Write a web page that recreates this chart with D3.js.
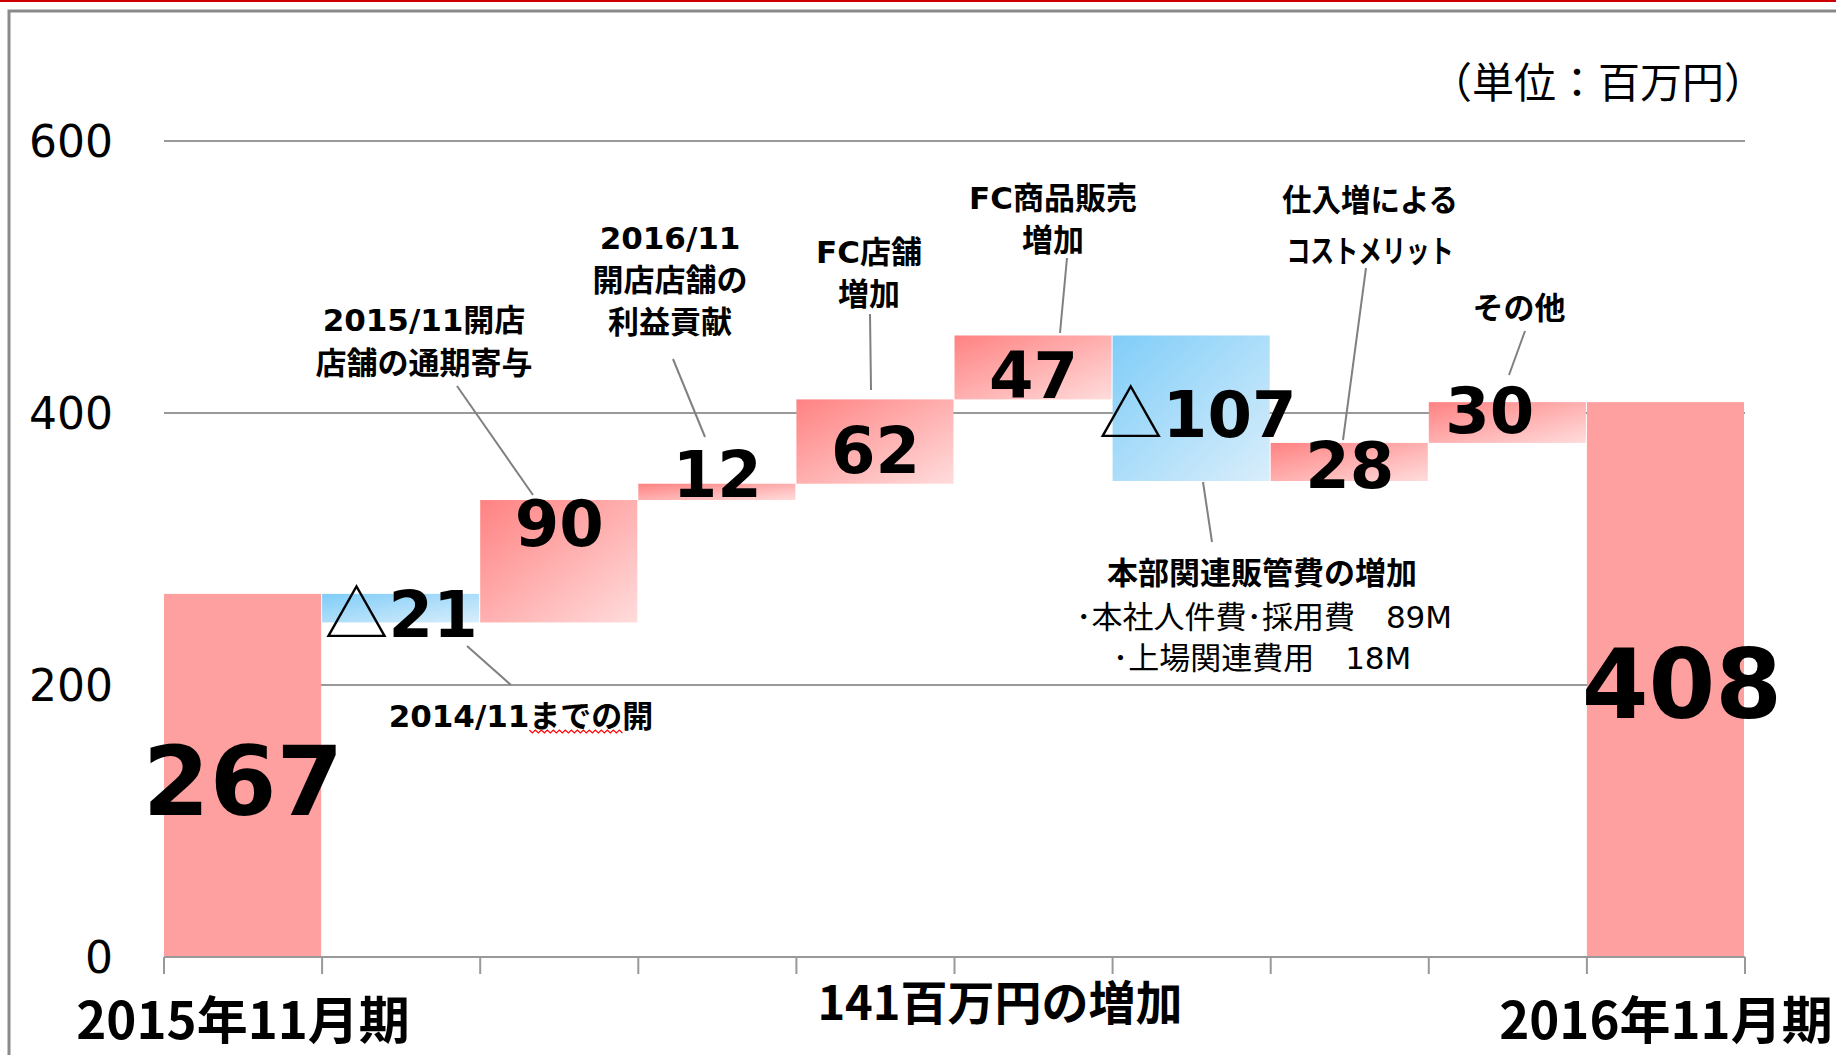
<!DOCTYPE html>
<html lang="ja">
<head>
<meta charset="utf-8">
<title>営業利益 増減要因</title>
<script src="https://cdn.jsdelivr.net/npm/d3@7"></script>
<style>
  html, body { margin: 0; padding: 0; background: #fff; }
  svg { display: block; }
</style>
</head>
<body>
<div id="chart"></div>
<script>
// Waterfall data, left to right
const categories = [
  "2015年11月期", "2014/11までの開店", "2015/11開店店舗の通期寄与", "2016/11開店店舗の利益貢献",
  "FC店舗増加", "FC商品販売増加", "本部関連販管費の増加", "仕入増によるコストメリット", "その他", "2016年11月期"
];
const barKinds = ["total", "delta", "delta", "delta", "delta", "delta", "delta", "delta", "delta", "total"];
const values = [267, -21, 90, 12, 62, 47, -107, 28, 30, 408];
const yTicks = [0, 200, 400, 600];
const unitLabel = "（単位：百万円）";
const changeLabel = "141百万円の増加";

// annotation texts
const noteTexts = [
  ["2014/11までの開"],
  ["2015/11開店", "店舗の通期寄与"],
  ["2016/11", "開店店舗の", "利益貢献"],
  ["FC店舗", "増加"],
  ["FC商品販売", "増加"],
  ["仕入増による", "コストメリット"],
  ["その他"]
];
const sgaTitle = "本部関連販管費の増加";
const sgaItems = ["･本社人件費･採用費　89M", "･上場関連費用　18M"];

// layout only (pixels)
const width = 1836, height = 1055;
const plot = { left: 164, right: 1745, top: 141, bottom: 957 };
const noteLayout = [
  { x: 521, y: 727, lh: 0, lead: [467, 646, 511, 685] },
  { x: 424, y: 331, lh: 43, lead: [457, 386, 533, 495] },
  { x: 670, y: 249, lh: 42, lead: [673, 359, 705, 437] },
  { x: 869, y: 263, lh: 42, lead: [870, 314, 871, 390] },
  { x: 1053, y: 209, lh: 42, lead: [1067, 258, 1060, 333] },
  { x: 1370, y: 211, lh: 51, lead: [1366, 268, 1343, 440], fit: [176, 167] },
  { x: 1519, y: 319, lh: 0, lead: [1525, 331, 1509, 375] }
];
const sgaLayout = { x: 1262, y: 584, lead: [1203, 482, 1212, 542] };
// small label nudges to follow the original placement
const labelDx = [0, 0, 0, 0, 0, 0, 6, 0, -18, 16];
const labelDy = [5, 5, -39, -18, 8, 7, 5, 3, -13, 3];

const latin = '"DejaVu Sans", "Noto Sans CJK JP", sans-serif';
const cjk = '"Noto Sans CJK JP", sans-serif';

// running totals
let run = 0;
const bars = values.map((v, i) => {
  let start, end;
  if (barKinds[i] === "total") { start = 0; end = v; run = v; }
  else { start = run; end = run + v; run = end; }
  return { i, v, kind: barKinds[i], start, end };
});

const x = d3.scaleBand().domain(d3.range(categories.length)).range([plot.left, plot.right]).padding(0);
const y = d3.scaleLinear().domain([0, 600]).range([plot.bottom, plot.top]);

const svg = d3.select("#chart").append("svg")
  .attr("width", width)
  .attr("height", height)
  .attr("viewBox", [0, 0, width, height]);

const defs = svg.append("defs");
function grad(id, c0, c1) {
  const g = defs.append("linearGradient").attr("id", id)
    .attr("x1", 0).attr("y1", 0).attr("x2", 1).attr("y2", 1);
  g.append("stop").attr("offset", 0).attr("stop-color", c0);
  g.append("stop").attr("offset", 1).attr("stop-color", c1);
}
grad("gUp", "#ff8282", "#ffdcdc");
grad("gDown", "#80cdf8", "#d9eefb");

// page frame
svg.append("rect").attr("x", 0).attr("y", 0).attr("width", width).attr("height", 2).attr("fill", "#cc0000");
svg.append("rect")
  .attr("x", 9).attr("y", 11).attr("width", width + 20).attr("height", height + 20)
  .attr("fill", "none").attr("stroke", "#8a8a8a").attr("stroke-width", 3);

// gridlines
svg.append("g").selectAll("line")
  .data(yTicks.filter(d => d > 0))
  .join("line")
  .attr("x1", plot.left).attr("x2", plot.right)
  .attr("y1", d => y(d)).attr("y2", d => y(d))
  .attr("stroke", "#999").attr("stroke-width", 2);

// y labels
svg.append("g")
  .attr("font-family", latin).attr("font-size", 44).attr("fill", "#000")
  .attr("text-anchor", "end")
  .selectAll("text")
  .data(yTicks)
  .join("text")
  .attr("x", 113)
  .attr("y", d => y(d) + 16)
  .text(d => d);

// bars
svg.append("g").selectAll("rect")
  .data(bars)
  .join("rect")
  .attr("x", d => x(d.i))
  .attr("width", x.bandwidth() - 1)
  .attr("y", d => y(Math.max(d.start, d.end)))
  .attr("height", d => Math.abs(y(d.start) - y(d.end)))
  .attr("fill", d => d.kind === "total" ? "#ffa0a0" : (d.v < 0 ? "url(#gDown)" : "url(#gUp)"));

// x axis line and ticks at category boundaries
const ax = svg.append("g").attr("stroke", "#999").attr("stroke-width", 2);
ax.append("line").attr("x1", plot.left).attr("x2", plot.right)
  .attr("y1", y(0)).attr("y2", y(0));
ax.selectAll("line.tick")
  .data(d3.range(categories.length + 1))
  .join("line").attr("class", "tick")
  .attr("x1", i => i < categories.length ? x(i) : plot.right)
  .attr("x2", i => i < categories.length ? x(i) : plot.right)
  .attr("y1", y(0)).attr("y2", y(0) + 17);

// leader lines
const leads = noteLayout.map(d => d.lead).concat([sgaLayout.lead]);
svg.append("g").selectAll("line")
  .data(leads)
  .join("line")
  .attr("x1", d => d[0]).attr("y1", d => d[1])
  .attr("x2", d => d[2]).attr("y2", d => d[3])
  .attr("stroke", "#808080").attr("stroke-width", 2);

// value labels
const vl = svg.append("g").attr("fill", "#000").attr("text-anchor", "middle")
  .selectAll("text")
  .data(bars)
  .join("text")
  .attr("font-family", latin)
  .attr("font-weight", "bold")
  .attr("font-size", d => d.kind === "total" ? 96 : 64)
  .attr("x", d => x(d.i) + x.bandwidth() / 2 + labelDx[d.i])
  .attr("y", d => {
    const fs = d.kind === "total" ? 96 : 64;
    return y((d.start + d.end) / 2) + fs * 0.365 + labelDy[d.i];
  });
vl.filter(d => d.v < 0).append("tspan")
  .attr("font-family", cjk).attr("font-weight", "normal")
  .text("△");
vl.append("tspan").text(d => Math.abs(d.v));

// annotations
const notes = svg.append("g")
  .attr("font-family", latin).attr("font-weight", "bold").attr("font-size", 31)
  .attr("text-anchor", "middle").attr("fill", "#000");
noteTexts.forEach((lines, k) => {
  const L = noteLayout[k];
  lines.forEach((t, j) => {
    const el = notes.append("text").attr("x", L.x).attr("y", L.y + j * L.lh).text(t).attr("class", "n" + k);
    if (L.fit) el.attr("textLength", L.fit[j]).attr("lengthAdjust", "spacingAndGlyphs");
  });
});

// red spell-check squiggle under "までの"
const first = notes.select("text.n0").node();
const s0 = first.getStartPositionOfChar(7);
const sLen = first.getSubStringLength(7, 3);
const sq = [];
for (let px = 0; px <= sLen; px += 3) sq.push([s0.x + px, s0.y + 3 + ((px / 3) % 2 ? 3 : 0)]);
svg.append("path")
  .attr("d", d3.line()(sq))
  .attr("fill", "none").attr("stroke", "#ff0000").attr("stroke-width", 1.2);

// SG&A block
const sga = svg.append("g").attr("font-family", latin).attr("font-size", 31)
  .attr("text-anchor", "middle").attr("fill", "#000");
sga.append("text").attr("x", sgaLayout.x).attr("y", sgaLayout.y)
  .attr("font-weight", "bold").text(sgaTitle);
sga.selectAll("text.item")
  .data(sgaItems)
  .join("text").attr("class", "item")
  .attr("x", (d, i) => sgaLayout.x + (i === 0 ? 2 : 0))
  .attr("y", (d, i) => sgaLayout.y + 44 + i * 41)
  .text(d => d);

// unit
svg.append("text")
  .attr("x", 1766).attr("y", 98)
  .attr("text-anchor", "end")
  .attr("font-family", cjk).attr("font-size", 42)
  .text(unitLabel);

// period labels under first / last bars
svg.append("g")
  .attr("font-family", cjk).attr("font-weight", "bold").attr("font-size", 51)
  .attr("text-anchor", "middle")
  .selectAll("text")
  .data([0, categories.length - 1])
  .join("text")
  .attr("x", i => x(i) + x.bandwidth() / 2)
  .attr("y", 1039)
  .text(i => categories[i]);

svg.append("text")
  .attr("x", 1000).attr("y", 1020)
  .attr("text-anchor", "middle")
  .attr("font-family", cjk).attr("font-weight", "bold").attr("font-size", 47)
  .text(changeLabel);
</script>
</body>
</html>
